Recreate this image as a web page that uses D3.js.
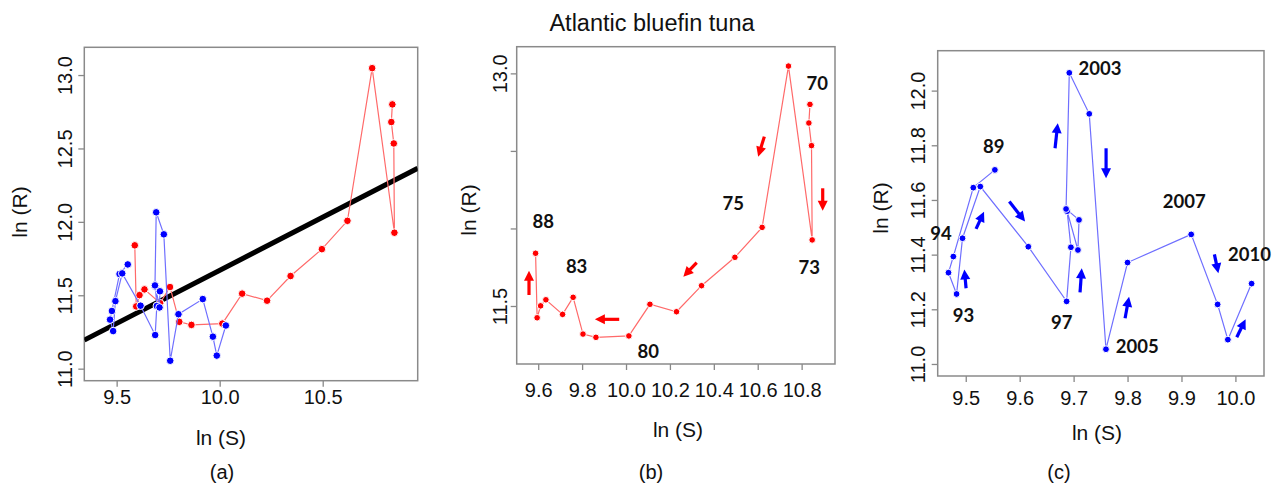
<!DOCTYPE html>
<html><head><meta charset="utf-8">
<script src="https://cdn.jsdelivr.net/npm/d3@7"></script>
<style>
body{margin:0;background:#fff}
text{font-family:"Liberation Sans",Arial,sans-serif;fill:#111}
</style>
</head><body><svg id="chart" width="1276" height="488"></svg>
<script>
// ---------------- data ----------------
const redYears = [1970,1971,1972,1973,1974,1975,1976,1977,1978,1979,1980,1981,1982,1983,1984,1985,1986,1987,1988];
const redS = [10.838,10.833,10.845,10.848,10.740,10.620,10.496,10.344,10.230,10.109,10.013,9.863,9.804,9.759,9.711,9.635,9.611,9.595,9.588];
const redR = [12.800,12.680,12.534,11.926,13.047,12.007,11.814,11.631,11.463,11.511,11.307,11.298,11.319,11.556,11.446,11.540,11.501,11.424,11.840];

const blueYears = [1989,1990,1991,1992,1993,1994,1995,1996,1997,1998,1999,2000,2001,2002,2003,2004,2005,2006,2007,2008,2009,2010];
const blueS = [9.554,9.514,9.477,9.468,9.483,9.494,9.527,9.616,9.687,9.695,9.688,9.708,9.710,9.686,9.692,9.729,9.760,9.800,9.918,9.967,9.986,10.030];
const blueR = [11.710,11.645,11.393,11.334,11.256,11.460,11.649,11.429,11.229,11.427,11.559,11.417,11.527,11.567,12.065,11.915,11.054,11.371,11.474,11.218,11.089,11.294];

// regression ln(R) = a + b ln(S)
const regIntercept = 4.44;
const regSlope = 0.723;

// tick values
const aXTicks = [9.5, 10.0, 10.5];
const aYTicks = [11.0, 11.5, 12.0, 12.5, 13.0];
const bXTicks = [9.6, 9.8, 10.0, 10.2, 10.4, 10.6, 10.8];
const bYTicks = [11.5, 12.0, 12.5, 13.0];
const bYLabelled = [11.5, 13.0];
const cXTicks = [9.5, 9.6, 9.7, 9.8, 9.9, 10.0];
const cYTicks = [11.0, 11.2, 11.4, 11.6, 11.8, 12.0];

// year annotations (data coordinates)
const bYearText = ["70","75","73","88","83","80"];
const bYearS = [10.871,10.488,10.835,9.623,9.775,10.101];
const bYearR = [12.936,12.162,11.750,12.044,11.753,11.205];
const cYearText = ["2003","89","94","93","97","2005","2007","2010"];
const cYearS = [9.749,9.552,9.454,9.496,9.678,9.818,9.905,10.026];
const cYearR = [12.082,11.795,11.476,11.179,11.153,11.063,11.594,11.399];

// direction arrows (tail S, tail R, head S, head R)
const bArrowS0 = [10.630,10.896,10.322,9.969,9.558];
const bArrowR0 = [12.592,12.259,11.779,11.414,11.571];
const bArrowS1 = [10.602,10.896,10.261,9.858,9.558];
const bArrowR1 = [12.463,12.114,11.689,11.414,11.728];
const cArrowS0 = [9.5006,9.5191,9.5808,9.6656,9.7602,9.7119,9.7954,9.9610,10.0025];
const cArrowR0 = [11.277,11.494,11.594,11.789,11.789,11.262,11.167,11.401,11.098];
const cArrowS1 = [9.4974,9.5339,9.6100,9.6706,9.7602,9.7151,9.8028,9.9684,10.0189];
const cArrowR1 = [11.346,11.557,11.521,11.881,11.679,11.350,11.246,11.332,11.164];

// ---------------- drawing ----------------
const svg = d3.select("#chart");
const RED = "#ff0000", BLUE = "#0000ff";
const RED_LINE = "#ff6a6a", BLUE_LINE = "#6f6fff";

const red = redYears.map((y,i)=>({year:y, s:redS[i], r:redR[i]}));
const blue = blueYears.map((y,i)=>({year:y, s:blueS[i], r:blueR[i]}));

function panel(o){
  const g = svg.append("g");
  const x = d3.scaleLinear().domain(o.xDomain).range([o.left, o.right]);
  const y = d3.scaleLinear().domain(o.yDomain).range([o.bottom, o.top]);
  const clipId = "clip"+o.id;
  svg.append("clipPath").attr("id", clipId).append("rect")
    .attr("x", o.left).attr("y", o.top).attr("width", o.right-o.left).attr("height", o.bottom-o.top);

  // axes
  const xa = g.append("g").attr("transform", `translate(0,${o.bottom})`)
    .call(d3.axisBottom(x).tickValues(o.xTicks).tickSize(6).tickFormat(d3.format(".1f")));
  xa.select(".domain").remove();
  xa.selectAll("line").attr("stroke","#888").attr("stroke-width",1.3);
  xa.selectAll("text").attr("y", o.xLabY).attr("dy","0.35em").style("font-size","20px")
    .style("font-family",'"Liberation Sans",Arial,sans-serif').attr("fill","#111");

  const ya = g.append("g").attr("transform", `translate(${o.left},0)`)
    .call(d3.axisLeft(y).tickValues(o.yTicks).tickSize(6)
      .tickFormat(d => (o.yLabelled ? (o.yLabelled.includes(d) ? d3.format(".1f")(d) : "") : d3.format(".1f")(d))));
  ya.select(".domain").remove();
  ya.selectAll("line").attr("stroke","#888").attr("stroke-width",1.3);
  ya.selectAll("text")
    .attr("x", null).attr("dy", null)
    .attr("text-anchor","middle")
    .attr("transform", `translate(${-o.yLabX},0) rotate(-90)`)
    .attr("dy","0.35em")
    .style("font-size","20px")
    .style("font-family",'"Liberation Sans",Arial,sans-serif').attr("fill","#111");

  // box
  g.append("rect").attr("x", o.left).attr("y", o.top)
    .attr("width", o.right-o.left).attr("height", o.bottom-o.top)
    .attr("fill","none").attr("stroke","#8a8a8a").attr("stroke-width",1.5);

  // axis titles
  g.append("text").attr("x", o.xTitle[0]).attr("y", o.xTitle[1]).attr("dy","0.35em")
    .attr("text-anchor","middle").style("font-size","21px").text("ln (S)");
  g.append("text").attr("transform", `translate(${o.yTitle[0]},${o.yTitle[1]}) rotate(-90)`)
    .attr("dy","0.35em").attr("text-anchor","middle").style("font-size","21px").text("ln (R)");
  g.append("text").attr("x", o.tag[0]).attr("y", o.tag[1]).attr("dy","0.35em")
    .attr("text-anchor","middle").style("font-size","20px").text(o.tagText);

  const plot = g.append("g").attr("clip-path", `url(#${clipId})`);
  return {g, plot, x, y};
}

function series(p, data, lineCol, dotCol, r){
  const line = d3.line().x(d=>p.x(d.s)).y(d=>p.y(d.r));
  p.plot.append("path").datum(data).attr("d", line)
    .attr("fill","none").attr("stroke", lineCol).attr("stroke-width",1.2);
  p.plot.selectAll(null).data(data).enter().append("circle")
    .attr("cx", d=>p.x(d.s)).attr("cy", d=>p.y(d.r)).attr("r", r)
    .attr("fill", dotCol).attr("stroke","#fff").attr("stroke-width",1);
}

function arrows(p, s0, r0, s1, r1, col){
  s0.forEach((_,i)=>{
    const x0=p.x(s0[i]), y0=p.y(r0[i]), x1=p.x(s1[i]), y1=p.y(r1[i]);
    const dx=x1-x0, dy=y1-y0, L=Math.hypot(dx,dy), ux=dx/L, uy=dy/L;
    const hl=10, hw=5;
    const bx=x1-ux*hl, by=y1-uy*hl;
    p.g.append("line").attr("x1",x0).attr("y1",y0).attr("x2",bx+ux*1).attr("y2",by+uy*1)
      .attr("stroke",col).attr("stroke-width",3.2);
    p.g.append("path")
      .attr("d",`M${x1},${y1}L${bx-uy*hw},${by+ux*hw}L${bx+uy*hw},${by-ux*hw}Z`)
      .attr("fill",col);
  });
}

function yearLabels(p, texts, ss, rs){
  texts.forEach((t,i)=>{
    p.g.append("text").attr("x", p.x(ss[i])).attr("y", p.y(rs[i])).attr("dy","0.35em")
      .attr("text-anchor","middle")
      .style("font-family","Lato, 'Open Sans', sans-serif").style("font-weight","700")
      .style("font-size","18.5px").text(t);
  });
}

// ---- panel (a)
const pa = panel({id:"a", left:84.3, right:417.7, top:47.3, bottom:380.7,
  xDomain:[9.343,10.961], yDomain:[10.918,13.189],
  xTicks:aXTicks, yTicks:aYTicks, xLabY:16, yLabX:19,
  xTitle:[221,438], yTitle:[20,212], tag:[222,472], tagText:"(a)"});
const [ax0, ax1] = pa.x.domain();
pa.plot.append("line")
  .attr("x1", pa.x(ax0)).attr("y1", pa.y(regIntercept+regSlope*ax0))
  .attr("x2", pa.x(ax1)).attr("y2", pa.y(regIntercept+regSlope*ax1))
  .attr("stroke","#000").attr("stroke-width",5);
series(pa, red, RED_LINE, RED, 3.8);
series(pa, blue, BLUE_LINE, BLUE, 3.8);

// ---- panel (b)
const pb = panel({id:"b", left:516.7, right:835, top:46.7, bottom:364,
  xDomain:[9.502,10.952], yDomain:[11.126,13.172],
  xTicks:bXTicks, yTicks:bYTicks, yLabelled:bYLabelled, xLabY:26, yLabX:17,
  xTitle:[678,430], yTitle:[469,210], tag:[651,472], tagText:"(b)"});
series(pb, red, RED_LINE, RED, 3.3);
arrows(pb, bArrowS0, bArrowR0, bArrowS1, bArrowR1, RED);
yearLabels(pb, bYearText, bYearS, bYearR);
svg.append("text").attr("x", 652).attr("y", 23).attr("dy","0.35em").attr("text-anchor","middle")
  .style("font-size","23.5px").text("Atlantic bluefin tuna");

// ---- panel (c)
const pc = panel({id:"c", left:937.7, right:1264, top:50.7, bottom:376,
  xDomain:[9.448,10.053], yDomain:[10.956,12.146],
  xTicks:cXTicks, yTicks:cYTicks, xLabY:22, yLabX:20,
  xTitle:[1097,433], yTitle:[881,208], tag:[1059,472], tagText:"(c)"});
series(pc, blue, BLUE_LINE, BLUE, 3.4);
arrows(pc, cArrowS0, cArrowR0, cArrowS1, cArrowR1, BLUE);
yearLabels(pc, cYearText, cYearS, cYearR);
</script>
</body></html>
